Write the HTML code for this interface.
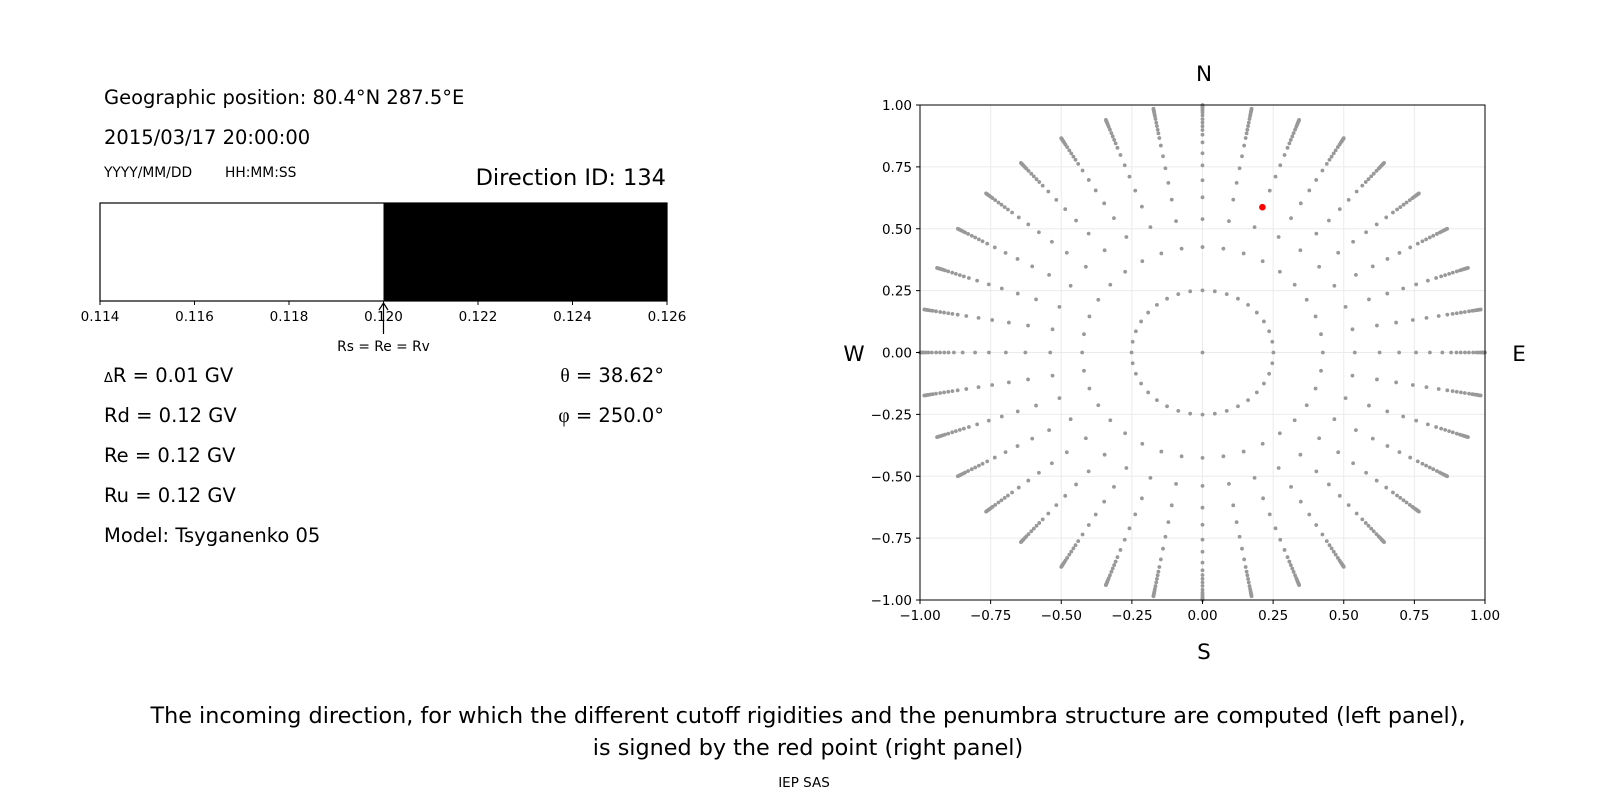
<!DOCTYPE html>
<html><head><meta charset="utf-8"><style>
html,body{margin:0;padding:0;background:#fff;}
svg{display:block;font-family:"DejaVu Sans","Liberation Sans",sans-serif;}
</style></head><body>
<svg id="s" width="1600" height="800" viewBox="0 0 1600 800" xmlns="http://www.w3.org/2000/svg">
<rect width="1600" height="800" fill="#fff"/>
<text x="104" y="104" font-size="19.5">Geographic position: 80.4°N 287.5°E</text>
<text x="104" y="144" font-size="19.5">2015/03/17 20:00:00</text>
<text x="104" y="177" font-size="13.8">YYYY/MM/DD</text>
<text x="225" y="177" font-size="13.8">HH:MM:SS</text>
<text x="666" y="185" font-size="22.5" text-anchor="end">Direction ID: 134</text>
<rect x="383.5" y="203" width="283.5" height="98" fill="#000"/>
<rect x="100" y="203" width="567" height="98" fill="none" stroke="#000" stroke-width="1.2"/>
<g stroke="#000" stroke-width="1">
<line x1="100" y1="301" x2="100" y2="305"/><line x1="194.5" y1="301" x2="194.5" y2="305"/>
<line x1="289" y1="301" x2="289" y2="305"/><line x1="383.5" y1="301" x2="383.5" y2="305"/>
<line x1="478" y1="301" x2="478" y2="305"/><line x1="572.5" y1="301" x2="572.5" y2="305"/>
<line x1="667" y1="301" x2="667" y2="305"/>
</g>
<g font-size="13.5" text-anchor="middle">
<text x="100" y="321">0.114</text><text x="194.5" y="321">0.116</text><text x="289" y="321">0.118</text>
<text x="383.5" y="321">0.120</text><text x="478" y="321">0.122</text><text x="572.5" y="321">0.124</text>
<text x="667" y="321">0.126</text>
</g>
<line x1="383.5" y1="334" x2="383.5" y2="304" stroke="#000" stroke-width="1.2"/>
<path d="M379 310 L383.5 303 L388 310" fill="none" stroke="#000" stroke-width="1.2"/>
<text x="383.5" y="351" font-size="13.8" text-anchor="middle">Rs = Re = Rv</text>
<g font-size="19.5">
<text x="104" y="382"><tspan font-size="13">Δ</tspan>R = 0.01 GV</text>
<text x="104" y="422">Rd = 0.12 GV</text>
<text x="104" y="462">Re = 0.12 GV</text>
<text x="104" y="502">Ru = 0.12 GV</text>
<text x="104" y="542">Model: Tsyganenko 05</text>
<text x="664" y="382" text-anchor="end"><tspan font-family="Liberation Serif,serif">θ</tspan> = 38.62°</text>
<text x="664" y="422" text-anchor="end"><tspan font-family="Liberation Serif,serif">φ</tspan> = 250.0°</text>
</g>
<g id="grid" stroke="#ebebeb" stroke-width="1"></g>
<g id="dots" fill="#999"></g>
<circle cx="1262.4" cy="207.2" r="3.3" fill="#f00"/>
<rect x="920" y="105" width="565" height="495" fill="none" stroke="#000" stroke-width="1"/>
<g id="ticks" stroke="#000" stroke-width="1"></g>
<g id="tl" font-size="13.5"></g>
<g font-size="21.5" text-anchor="middle">
<text x="1204" y="81">N</text>
<text x="1204" y="659">S</text>
<text x="854" y="361">W</text>
<text x="1519" y="361">E</text>
</g>
<g font-size="22.3" text-anchor="middle">
<text x="808" y="723">The incoming direction, for which the different cutoff rigidities and the penumbra structure are computed (left panel),</text>
<text x="808" y="755">is signed by the red point (right panel)</text>
</g>
<text x="804" y="787" font-size="13.5" text-anchor="middle">IEP SAS</text>
</svg>
<script>
var NS="http://www.w3.org/2000/svg";
var cx=1202.5,cy=352.5,sx=282.5,sy=247.5;
function el(t,a,p){var e=document.createElementNS(NS,t);for(var k in a)e.setAttribute(k,a[k]);p.appendChild(e);return e;}
var g=document.getElementById('grid'),d=document.getElementById('dots'),tk=document.getElementById('ticks'),tl=document.getElementById('tl');
var vals=[-1,-0.75,-0.5,-0.25,0,0.25,0.5,0.75,1];
var labs=["\u22121.00","\u22120.75","\u22120.50","\u22120.25","0.00","0.25","0.50","0.75","1.00"];
vals.forEach(function(v,i){
 var x=cx+v*sx,y=cy-v*sy;
 el('line',{x1:x,y1:105,x2:x,y2:600},g);
 el('line',{x1:920,y1:y,x2:1485,y2:y},g);
 el('line',{x1:x,y1:600,x2:x,y2:604},tk);
 el('line',{x1:916,y1:y,x2:920,y2:y},tk);
 var t=el('text',{x:x,y:620,'text-anchor':'middle'},tl);t.textContent=labs[i];
 var t2=el('text',{x:912,y:y+5,'text-anchor':'end'},tl);t2.textContent=labs[i];
});
var R=[0.251,0.426,0.539,0.627,0.696,0.756,0.805,0.849,0.88,0.899,0.914,0.929,0.943,0.958,0.97,0.978,0.985,0.99,0.994,0.997,1.0];
el('circle',{cx:cx,cy:cy,r:1.9},d);
for(var a=0;a<360;a+=10){
 var ra=a*Math.PI/180;
 R.forEach(function(r){
  el('circle',{cx:cx+r*Math.sin(ra)*sx,cy:cy-r*Math.cos(ra)*sy,r:1.9},d);
 });
}
</script>
</body></html>
